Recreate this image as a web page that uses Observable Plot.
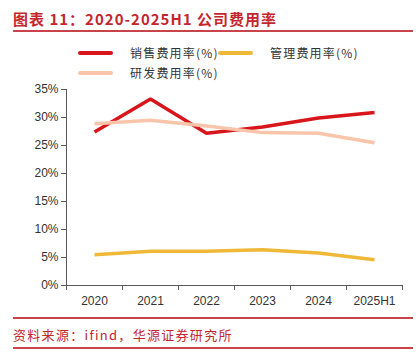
<!DOCTYPE html>
<html><head><meta charset="utf-8">
<script src="https://cdn.jsdelivr.net/npm/d3@7"></script>
<script src="https://cdn.jsdelivr.net/npm/@observablehq/plot@0.6"></script>
<style>
body{margin:0;background:#fff;}
#wrap{position:relative;width:420px;height:362px;overflow:hidden;font-family:"Noto Sans CJK SC","Liberation Sans",sans-serif;}
.abs{position:absolute;}
#title{left:13px;top:8px;font-size:15px;font-weight:bold;color:#c4262e;white-space:nowrap;letter-spacing:1px;}
.rule{left:13px;width:400px;height:1.5px;background:#c9444a;}
.sw{height:4px;border-radius:2px;width:35px;}
.lt{font-size:12px;color:#333;white-space:nowrap;letter-spacing:1.2px;}
#cap{left:13px;top:325px;font-size:13px;color:#c4262e;white-space:nowrap;letter-spacing:1.3px;}
#chart{left:0;top:80px;}
</style></head>
<body><div id="wrap">
<div id="title" class="abs">图表 11：2020-2025H1 公司费用率</div>
<div class="abs rule" style="top:30px"></div>
<div id="legend"></div>
<div id="chart" class="abs"></div>
<div class="abs rule" style="top:317px"></div>
<div id="cap" class="abs">资料来源：ifind，华源证券研究所</div>
<div class="abs rule" style="top:347px"></div>
</div>
<script>
const categories = ["2020","2021","2022","2023","2024","2025H1"];
const seriesNames = ["销售费用率(%)","管理费用率(%)","研发费用率(%)"];
const sales = [27.4, 33.3, 27.2, 28.3, 29.9, 30.9];
const mgmt  = [5.5, 6.1, 6.1, 6.4, 5.8, 4.6];
const rd    = [28.9, 29.5, 28.5, 27.3, 27.2, 25.5];
const colors = ["#d9151c", "#efb837", "#f8c5aa"];
const yTicks = [0,5,10,15,20,25,30,35];

const seriesValues = [sales, mgmt, rd];
const data = [];
seriesNames.forEach((s, si) => seriesValues[si].forEach((v, i) => data.push({series: s, idx: i + 0.5, value: v})));

// legend
const legendPos = [[78,53],[218,53],[78,73]];
const leg = document.getElementById("legend");
seriesNames.forEach((s,i)=>{
  const [x,y] = legendPos[i];
  const sw = document.createElement("div");
  sw.className="abs sw"; sw.style.left=x+"px"; sw.style.top=(y-2)+"px"; sw.style.background=colors[i];
  leg.appendChild(sw);
  const t = document.createElement("div");
  t.className="abs lt"; t.style.left=(x+52)+"px"; t.style.top=(y-9)+"px"; t.textContent=s;
  leg.appendChild(t);
});

const boundaries = d3.range(0, categories.length + 1);
const centers = categories.map((c,i)=>i+0.5);

const plot = Plot.plot({
  width: 420, height: 232,
  marginTop: 9, marginBottom: 27, marginLeft: 66, marginRight: 18,
  style: {fontFamily: "'Liberation Sans', Arial, sans-serif", fontSize: "12px", color: "#333", background: "transparent"},
  x: {domain: [0, categories.length], label: null},
  y: {domain: [0, 35], label: null},
  color: {domain: seriesNames, range: colors},
  marks: [
    Plot.axisX(boundaries, {tickFormat: () => "", tickSize: 5, stroke: "#595959", strokeOpacity: 1, label: null}),
    Plot.axisX(centers, {tickFormat: d => categories[Math.floor(d)], tickSize: 0, tickPadding: 11, fill: "#333", fontSize: 12, label: null}),
    Plot.axisY(yTicks, {tickFormat: d => d + "%", tickSize: 5, tickPadding: 3, stroke: "#595959", strokeOpacity: 1, fill: "#333", fontSize: 12, label: null}),
    Plot.ruleY([0], {stroke: "#595959"}),
    Plot.ruleX([0], {stroke: "#595959"}),
    Plot.line(data, {x: "idx", y: "value", z: "series", stroke: "series", strokeWidth: 3.5, strokeLinejoin: "miter", strokeLinecap: "butt"})
  ]
});
document.getElementById("chart").appendChild(plot);
</script>
</body></html>
